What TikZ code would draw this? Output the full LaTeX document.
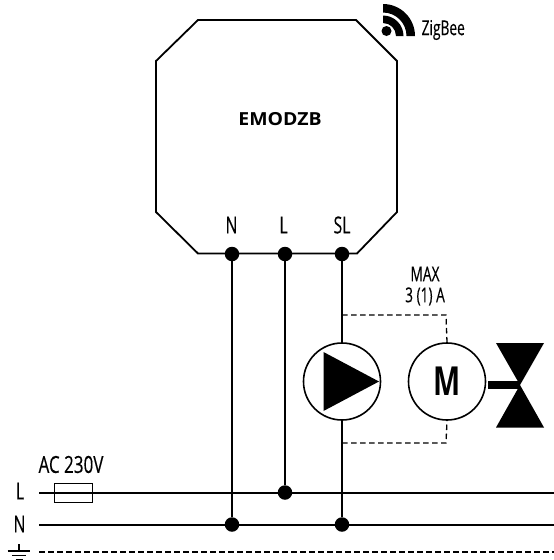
\documentclass[tikz,border=0pt]{standalone}
\usepackage{fontspec}
\setmainfont[FakeStretch=0.67,FakeBold=0.25]{Open Sans}
\newfontfamily\boxfont{Open Sans}
\tikzset{
  wire/.style={line width=1.8pt,line cap=butt},
  dashwire/.style={line width=1.3pt,dash pattern=on 5.5pt off 3.5pt},
  dot/.style={circle,fill=black,inner sep=0pt,minimum size=14.5pt},
  lbl/.style={inner sep=0pt,font=\fontsize{23.5}{26}\selectfont,text=black},
  small/.style={inner sep=0pt,font=\fontsize{20.5}{22}\selectfont,text=black,align=center},
  roundsym/.style={circle,draw=black,line width=1.6pt,fill=white,inner sep=0pt,minimum size=77pt}
}
\begin{document}
\begin{tikzpicture}[x=1pt,y=-1pt]
\useasboundingbox (0,0) rectangle (554,560);
% module
\draw[line width=1.8pt,line join=miter] (198,20) -- (356,20) -- (397,61) -- (397,212) -- (357,253.5) -- (198,253.5) -- (156,212) -- (156,61) -- cycle;
\node[inner sep=0pt,font=\boxfont\bfseries\fontsize{18}{20}\selectfont,xscale=1.08] (title) at (280,119) {EMODZB};
\node[lbl] (tN) at (231.5,225) {N};
\node[lbl] (tL) at (283.5,225) {L};
\node[lbl] (tSL) at (342,225) {SL};
% junctions
\node[dot] (jN) at (232,254) {};
\node[dot] (jL) at (285,254) {};
\node[dot] (jSL) at (342,254) {};
\node[dot] (bN) at (232,524.5) {};
\node[dot] (bL) at (285,492.5) {};
\node[dot] (bSL) at (342,524.5) {};
% supply
\coordinate (Ls) at (39,493);
\coordinate (Le) at (554,493);
\coordinate (Ns) at (39,525);
\coordinate (Ne) at (554,525);
\coordinate (Es) at (39,552);
\coordinate (Ee) at (554,552);
\node[draw=black,line width=1.6pt,minimum width=38pt,minimum height=19pt,inner sep=0pt] (fuse) at (73.5,493) {};
\draw[wire] (Ls) -- (Le);
\draw[wire] (Ns) -- (Ne);
\draw[dashwire] (Es) -- (Ee);
\draw[wire] (jN) -- (bN);
\draw[wire] (jL) -- (bL);
\draw[wire] (jSL) -- (bSL);
\node[lbl,xscale=1.08] (acl) at (71,464.5) {AC 230V};
\node[lbl] (lL) at (20,491) {L};
\node[lbl] (lN) at (19.5,524) {N};
% ground
\coordinate (g0) at (19,544);
\coordinate (g1) at (19,551);
\draw[line width=1.4pt] (g0) -- (g1);
\draw[line width=1.4pt] (7.5,551) -- (30,551);
\draw[line width=1.4pt] (12,555.7) -- (26,555.7);
\draw[line width=1.4pt] (15.5,559.5) -- (22.5,559.5);
% pump, motor
\node[roundsym] (pump) at (342,381.5) {};
\node[roundsym] (motor) at (447,381.5) {};
\fill (323.5,352) -- (379,381.5) -- (323.5,411) -- cycle;
\node[inner sep=0pt,font=\boxfont\bfseries\fontsize{40}{42}\selectfont,xscale=.72] (mm) at (447,381.5) {M};
\coordinate (dt) at (446,315);
\coordinate (db) at (446,443);
\coordinate (dtl) at (342,315);
\coordinate (dbl) at (342,443);
\draw[dashwire] (dtl) -- (dt) -- (motor.north);
\draw[dashwire] (dbl) -- (db) -- (motor.south);
\node[small] (max) at (425,286) {MAX\\[-1pt]3 (1) A};
% valve
\coordinate (vc) at (520,385);
\fill (496,343) -- (544,343) -- (vc) -- cycle;
\fill (496,427.5) -- (544,427.5) -- (vc) -- cycle;
\draw[line width=7.5pt] (488,385) -- (vc);
% signal icon
\fill (386.5,31) circle (5);
\fill (383,15.5) arc (-90:0:20.5) -- ++(-7.5,0) arc (0:-90:13) -- cycle;
\fill (383,4) arc (-90:0:32) -- ++(-8.5,0) arc (0:-90:23.5) -- cycle;
\node[small,anchor=west] (zb) at (421.5,30) {ZigBee};
\end{tikzpicture}
\end{document}
